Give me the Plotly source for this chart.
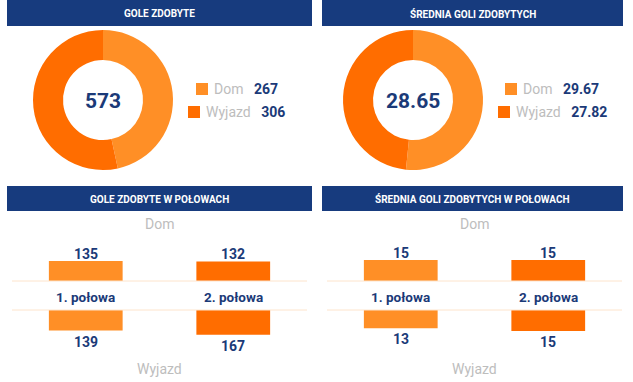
import plotly.graph_objects as go

# ---------------- data ----------------
venues = ["Dom", "Wyjazd"]
goals_total = [267, 306]
goals_total_center = 573
goals_avg = [29.67, 27.82]
goals_avg_center = 28.65

halves = ["1. połowa", "2. połowa"]
halves_goals_dom = [135, 132]
halves_goals_wyjazd = [139, 167]
halves_avg_dom = [15, 15]
halves_avg_wyjazd = [13, 15]

titles = ["GOLE ZDOBYTE", "ŚREDNIA GOLI ZDOBYTYCH",
          "GOLE ZDOBYTE W POŁOWACH", "ŚREDNIA GOLI ZDOBYTYCH W POŁOWACH"]

# ---------------- style ----------------
W, H = 633, 382
NAVY = "#173B7E"
TXT = "#1B3A78"
GRAY = "#BDBDBD"
C_DOM = "#FF8F26"
C_WYJ = "#FF6D00"
SEP = "#FDE4CC"
FONT = "Roboto"


def fx(px):
    return px / W


def fy(py):
    return 1 - py / H


fig = go.Figure()
shapes = []
annotations = []

# headers
for (x0, x1, y0, y1), t in zip([(7, 312, 0, 26), (322, 623, 0, 26),
                                (7, 312, 186, 211), (322, 623, 186, 211)], titles):
    shapes.append(dict(type="rect", xref="paper", yref="paper",
                       x0=fx(x0), x1=fx(x1), y0=fy(y1), y1=fy(y0),
                       fillcolor=NAVY, line=dict(width=0), layer="below"))
    annotations.append(dict(xref="paper", yref="paper", x=fx((x0 + x1) / 2),
                            y=fy((y0 + y1) / 2 + 0.5), text="<b>" + t + "</b>",
                            showarrow=False, xanchor="center", yanchor="middle",
                            font=dict(family=FONT, size=10, color="white")))

# donuts
for cx, vals, center, fmt, legx in [(103, goals_total, goals_total_center, "{:d}", [196, 188]),
                                    (413, goals_avg, goals_avg_center, "{:.2f}", [505, 498])]:
    R = 70
    fig.add_trace(go.Pie(labels=venues, values=vals, hole=40 / 70, sort=False,
                         direction="clockwise", rotation=0, textinfo="none",
                         marker=dict(colors=[C_DOM, C_WYJ], line=dict(width=0)),
                         domain=dict(x=[fx(cx - R), fx(cx + R)], y=[fy(170), fy(30)]),
                         showlegend=False, hoverinfo="label+value"))
    annotations.append(dict(xref="paper", yref="paper", x=fx(cx), y=fy(101),
                            text="<b>" + fmt.format(center) + "</b>", showarrow=False,
                            xanchor="center", yanchor="middle",
                            font=dict(family=FONT, size=21, color=TXT)))
    for i, (lab, v, col) in enumerate(zip(venues, vals, [C_DOM, C_WYJ])):
        yc = 89 + i * 23
        sx = legx[i]
        shapes.append(dict(type="rect", xref="paper", yref="paper",
                           x0=fx(sx), x1=fx(sx + 12), y0=fy(yc + 6), y1=fy(yc - 6),
                           fillcolor=col, line=dict(width=0)))
        annotations.append(dict(xref="paper", yref="paper", x=fx(sx + 16), y=fy(yc),
                                text=f"<span style='color:{GRAY}'>{lab}</span>&nbsp;&nbsp;&nbsp;"
                                     f"<b>{fmt.format(v)}</b>",
                                showarrow=False, xanchor="left", yanchor="middle",
                                font=dict(family=FONT, size=14, color=TXT)))

# half bars
panels = [
    ("x", "y", "y2", 12, 307, halves_goals_dom, halves_goals_wyjazd, 345),
    ("x2", "y3", "y4", 327, 622, halves_avg_dom, halves_avg_wyjazd, 36.5),
]
layout_axes = {}
for i, (xa, ya_top, ya_bot, x0, x1, dom_vals, wyj_vals, rng) in enumerate(panels):
    colors = [C_DOM, C_WYJ]
    fig.add_trace(go.Bar(x=halves, y=dom_vals, xaxis=xa, yaxis=ya_top,
                         marker=dict(color=colors, line=dict(width=0)),
                         showlegend=False, name="Dom"))
    fig.add_trace(go.Bar(x=halves, y=wyj_vals, xaxis=xa, yaxis=ya_bot,
                         marker=dict(color=colors, line=dict(width=0)),
                         showlegend=False, name="Wyjazd"))
    for h, v in zip(halves, dom_vals):
        annotations.append(dict(xref=xa, yref=ya_top, x=h, y=v, text=f"<b>{v}</b>",
                                showarrow=False, xanchor="center", yanchor="bottom",
                                yshift=-3, font=dict(family=FONT, size=14, color=TXT)))
    for h, v in zip(halves, wyj_vals):
        annotations.append(dict(xref=xa, yref=ya_bot, x=h, y=v, text=f"<b>{v}</b>",
                                showarrow=False, xanchor="center", yanchor="top",
                                yshift=-1, font=dict(family=FONT, size=14, color=TXT)))
    xkey = "xaxis" if xa == "x" else "xaxis" + xa[1:]
    layout_axes[xkey] = dict(domain=[fx(x0), fx(x1)], visible=False, fixedrange=True,
                             anchor=ya_top)
    ktop = "yaxis" if ya_top == "y" else "yaxis" + ya_top[1:]
    kbot = "yaxis" + ya_bot[1:]
    layout_axes[ktop] = dict(domain=[fy(281), fy(230)], range=[0, rng], visible=False,
                             fixedrange=True, anchor=xa)
    layout_axes[kbot] = dict(domain=[fy(361), fy(310)], range=[rng, 0], visible=False,
                             fixedrange=True, anchor=xa)
    for yy in (281, 310):
        shapes.append(dict(type="line", xref="paper", yref="paper", x0=fx(x0), x1=fx(x1),
                           y0=fy(yy), y1=fy(yy), line=dict(color=SEP, width=1)))
    for h in halves:
        annotations.append(dict(xref=xa, yref="paper", x=h, y=fy(297), text=f"<b>{h}</b>",
                                showarrow=False, xanchor="center", yanchor="middle",
                                font=dict(family=FONT, size=13.5, color=TXT)))
    pc = (x0 + x1) / 2
    annotations.append(dict(xref="paper", yref="paper", x=fx(pc), y=fy(224), text=venues[0],
                            showarrow=False, xanchor="center", yanchor="middle",
                            font=dict(family=FONT, size=14, color=GRAY)))
    annotations.append(dict(xref="paper", yref="paper", x=fx(pc), y=fy(369), text=venues[1],
                            showarrow=False, xanchor="center", yanchor="middle",
                            font=dict(family=FONT, size=14, color=GRAY)))

fig.update_layout(width=W, height=H, margin=dict(l=0, r=0, t=0, b=0),
                  paper_bgcolor="white", plot_bgcolor="white",
                  bargap=0.5, shapes=shapes, annotations=annotations,
                  font=dict(family=FONT), **layout_axes)

fig.write_html("out.html", config={"displayModeBar": False},
               post_script="document.body.style.margin='0';document.body.style.overflow='hidden';")
